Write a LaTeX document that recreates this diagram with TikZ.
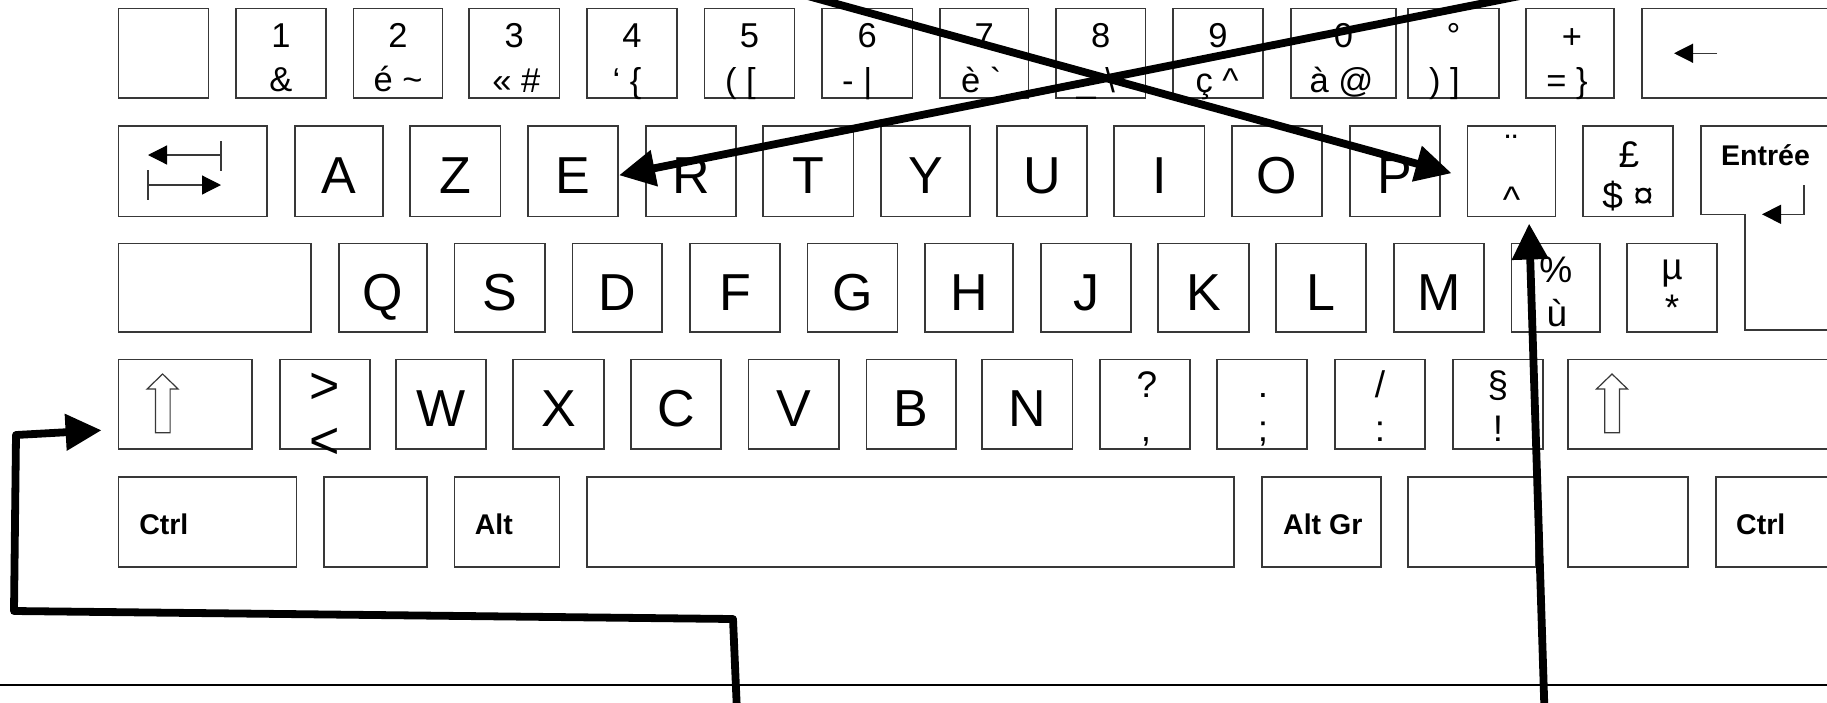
\documentclass[tikz,border=0pt]{standalone}
\usepackage{fontspec}
\setmainfont{Liberation Sans}
\usetikzlibrary{arrows.meta,calc}
\newcommand\kbox[5]{\node[keybox, minimum width={(#4)-(#2)}, minimum height={(#5)-(#3)}] (#1) at ({((#2)+(#4))/2},{((#3)+(#5))/2}) {};}
\newcommand\leg[5]{\node[#1] (#2) at ($(#3.north)+(#4)$) {#5};}
\newcommand\shiftarr[1]{\begin{scope}[shift={(#1.north west)}]
  \draw[thinline, fill=white] (44,14.5) -- (59.5,29.5) -- (51.5,29.5) -- (51.5,73.2) -- (36.8,73.2) -- (36.8,29.5) -- (28.5,29.5) -- cycle;
\end{scope}}
\begin{document}
\begin{tikzpicture}[x=1pt,y=-1pt,
  keybox/.style={draw=black!78, line width=1.2pt, fill=white, inner sep=0pt, outer sep=0pt},
  letter/.style={font=\fontsize{52}{52}\selectfont, inner sep=0pt, anchor=base},
  dig/.style={font=\fontsize{34.5}{34.5}\selectfont, inner sep=0pt, anchor=base},
  sym/.style={font=\fontsize{37}{37}\selectfont, inner sep=0pt, anchor=base},
  boldlbl/.style={font=\fontsize{28.5}{28.5}\selectfont\bfseries, inner sep=0pt, anchor=base west},
  bigarrow/.style={line width=7.8pt, line join=round, -{Triangle[length=36pt,width=35pt]}},
  thinline/.style={draw=black!78, line width=1.2pt},
  thinarrow/.style={thinline, -{Triangle[length=19pt,width=19pt,color=black]}}
]
\path[use as bounding box] (0,0) rectangle (1827,702);
\clip (0,0) rectangle (1827,702);
\fill[white] (0,0) rectangle (1827,702);
% ---------- row 1
\def\ya{8.5}\def\yb{98}
\kbox{k0}{118.6}{\ya}{208.8}{\yb}
\kbox{k1}{236}{\ya}{326}{\yb}
\kbox{k2}{353.5}{\ya}{442.5}{\yb}
\kbox{k3}{469}{\ya}{559.5}{\yb}
\kbox{k4}{587}{\ya}{677}{\yb}
\kbox{k5}{704.5}{\ya}{794.5}{\yb}
\kbox{k6}{822}{\ya}{912.5}{\yb}
\kbox{k7}{940}{\ya}{1028.5}{\yb}
\kbox{k8}{1056}{\ya}{1145.6}{\yb}
\kbox{k9}{1173}{\ya}{1263}{\yb}
\kbox{k10}{1291}{\ya}{1396}{\yb}
\kbox{k11}{1408}{\ya}{1499}{\yb}
\kbox{k12}{1526}{\ya}{1614}{\yb}
\kbox{kBk}{1642}{\ya}{1850}{\yb}
\leg{dig}{k1a}{k1}{0,38.5}{1}
\leg{dig}{k1b}{k1}{0,82.5}{\&}
\leg{dig}{k2a}{k2}{0,38.5}{2}
\leg{dig}{k2b}{k2}{0,82.5}{é \textasciitilde}
\leg{dig}{k3a}{k3}{0,38.5}{3}
\leg{dig}{k3b}{k3}{2,84}{« \#}
\leg{dig}{k4a}{k4}{0,38.5}{4}
\leg{dig}{k4b}{k4}{-5,84}{‘ \{}
\leg{dig}{k5a}{k5}{0,38.5}{5}
\leg{dig}{k5b}{k5}{-9,84}{( [}
\leg{dig}{k6a}{k6}{0,38.5}{6}
\leg{dig}{k6b}{k6}{-10,84}{- |}
\leg{dig}{k7a}{k7}{0,38.5}{7}
\leg{dig}{k7b}{k7}{-3,84}{è \textasciigrave}
\leg{dig}{k8a}{k8}{0,38.5}{8}
\leg{dig}{k8b}{k8}{-5,84}{\_ \textbackslash}
\leg{dig}{k9a}{k9}{0,38.5}{9}
\leg{dig}{k9b}{k9}{-1,84}{ç \textasciicircum}
\leg{dig}{k10a}{k10}{0,38.5}{0}
\leg{dig}{k10b}{k10}{-2,84}{à @}
\leg{dig}{k11a}{k11}{0,38.5}{°}
\leg{dig}{k11b}{k11}{-9,84}{) ]}
\leg{dig}{k12a}{k12}{2,40}{+}
\leg{dig}{k12b}{k12}{-3,84}{= \}}
\draw[thinarrow] ($(kBk.west)+(75,0)$) coordinate (bk1) -- ($(kBk.west)+(32,0)$) coordinate (bk2);
% ---------- row 2
\def\ya{126}\def\yb{216.5}
\kbox{kTab}{118.6}{\ya}{267}{\yb}
\kbox{kA}{295}{\ya}{383}{\yb}
\kbox{kZ}{410}{\ya}{500.6}{\yb}
\kbox{kE}{528}{\ya}{618}{\yb}
\kbox{kR}{646}{\ya}{736}{\yb}
\kbox{kT}{763}{\ya}{853.5}{\yb}
\kbox{kY}{881}{\ya}{970}{\yb}
\kbox{kU}{997}{\ya}{1087}{\yb}
\kbox{kI}{1114}{\ya}{1204.6}{\yb}
\kbox{kO}{1232}{\ya}{1322}{\yb}
\kbox{kP}{1350}{\ya}{1440}{\yb}
\kbox{kDia}{1467.6}{\ya}{1555.6}{\yb}
\kbox{kPound}{1583}{\ya}{1673}{\yb}
\foreach \k/\t in {kA/A,kZ/Z,kE/E,kR/R,kT/T,kY/Y,kU/U,kI/I,kO/O,kP/P}
  {\leg{letter}{\k l}{\k}{0,67.3}{\t}}
\leg{sym}{kDiaa}{kDia}{0,34}{¨}
\leg{sym}{kDiab}{kDia}{0,86}{\textasciicircum}
\leg{sym}{kPounda}{kPound}{1,41}{£}
\leg{sym}{kPoundb}{kPound}{0,82}{\$ ¤}
% tab arrows
\coordinate (ta1) at (221,141); \coordinate (ta2) at (221,171);
\coordinate (ta3) at (221,155); \coordinate (ta4) at (148,155);
\coordinate (tb1) at (148,170); \coordinate (tb2) at (148,200);
\coordinate (tb3) at (148,185); \coordinate (tb4) at (221,185);
\draw[thinline] (ta1) -- (ta2);
\draw[thinarrow] (ta3) -- (ta4);
\draw[thinline] (tb1) -- (tb2);
\draw[thinarrow] (tb3) -- (tb4);
% Entree
\draw[keybox] (1701,126) coordinate (kEnt) -- (1850,126) -- (1850,330) -- (1745,330) -- (1745,214.3) -- (1701,214.3) -- cycle;
\node[boldlbl] (kEntl) at ($(kEnt)+(20,39)$) {Entrée};
\coordinate (en1) at (1804,185); \coordinate (en2) at (1804,214.3); \coordinate (en3) at (1762,214.3);
\draw[thinarrow] (en1) -- (en2) -- (en3);
% ---------- row 3
\def\ya{243.5}\def\yb{332}
\kbox{kCaps}{118.6}{\ya}{311}{\yb}
\kbox{kQ}{339}{\ya}{427}{\yb}
\kbox{kS}{454.7}{\ya}{545}{\yb}
\kbox{kD}{572.5}{\ya}{662}{\yb}
\kbox{kF}{690}{\ya}{780}{\yb}
\kbox{kG}{807.6}{\ya}{897.7}{\yb}
\kbox{kH}{925}{\ya}{1013}{\yb}
\kbox{kJ}{1041}{\ya}{1131}{\yb}
\kbox{kK}{1158}{\ya}{1249}{\yb}
\kbox{kL}{1276}{\ya}{1366}{\yb}
\kbox{kM}{1394}{\ya}{1484}{\yb}
\kbox{kPct}{1511.6}{\ya}{1600}{\yb}
\kbox{kMu}{1627}{\ya}{1717}{\yb}
\foreach \k/\t in {kQ/Q,kS/S,kD/D,kF/F,kG/G,kH/H,kJ/J,kK/K,kL/L,kM/M}
  {\leg{letter}{\k l}{\k}{0,67.3}{\t}}
\leg{sym}{kPcta}{kPct}{0,38.5}{\%}
\leg{sym}{kPctb}{kPct}{1,82.5}{ù}
\leg{sym}{kMua}{kMu}{0,35.5}{µ}
\leg{sym}{kMub}{kMu}{0,76.5}{*}
% ---------- row 4
\def\ya{359.5}\def\yb{449}
\kbox{kLSh}{118.6}{\ya}{252}{\yb}
\kbox{kLt}{280}{\ya}{370}{\yb}
\kbox{kW}{396}{\ya}{486}{\yb}
\kbox{kX}{513}{\ya}{604}{\yb}
\kbox{kC}{631}{\ya}{721}{\yb}
\kbox{kV}{748.7}{\ya}{839}{\yb}
\kbox{kB}{866.5}{\ya}{956}{\yb}
\kbox{kN}{982}{\ya}{1072.5}{\yb}
\kbox{kQm}{1100}{\ya}{1190}{\yb}
\kbox{kSc}{1217}{\ya}{1307}{\yb}
\kbox{kSl}{1335}{\ya}{1425}{\yb}
\kbox{kSec}{1453}{\ya}{1543}{\yb}
\kbox{kRSh}{1568}{\ya}{1850}{\yb}
\foreach \k/\t in {kW/W,kX/X,kC/C,kV/V,kB/B,kN/N}
  {\leg{letter}{\k l}{\k}{0,67.3}{\t}}
\leg{letter}{kLta}{kLt}{0,43.5}{>}
\leg{letter}{kLtb}{kLt}{0,98.5}{<}
\leg{sym}{kQma}{kQm}{2,37.5}{?}
\leg{sym}{kQmb}{kQm}{1,81.5}{,}
\leg{sym}{kSca}{kSc}{1,37.5}{.}
\leg{sym}{kScb}{kSc}{1,81.5}{;}
\leg{sym}{kSla}{kSl}{0,37.5}{/}
\leg{sym}{kSlb}{kSl}{0,81.5}{:}
\leg{sym}{kSeca}{kSec}{0,37.5}{§}
\leg{sym}{kSecb}{kSec}{0,81.5}{!}
\shiftarr{kLSh}
\shiftarr{kRSh}
% ---------- row 5
\def\ya{477}\def\yb{567}
\kbox{kLC}{118.6}{\ya}{296.6}{\yb}
\kbox{kWin}{324}{\ya}{427}{\yb}
\kbox{kAlt}{454.7}{\ya}{559.5}{\yb}
\kbox{kSp}{587}{\ya}{1234}{\yb}
\kbox{kAG}{1262}{\ya}{1381}{\yb}
\kbox{kWin2}{1408}{\ya}{1536}{\yb}
\kbox{kMenu}{1568}{\ya}{1688}{\yb}
\kbox{kRC}{1716}{\ya}{1850}{\yb}
\node[boldlbl] (kLCl) at ($(kLC.north west)+(20.5,57.5)$) {Ctrl};
\node[boldlbl] (kAltl) at ($(kAlt.north west)+(20,57.5)$) {Alt};
\node[boldlbl] (kAGl) at ($(kAG.north west)+(21,57.5)$) {Alt Gr};
\node[boldlbl] (kRCl) at ($(kRC.north west)+(20,57.5)$) {Ctrl};
% ---------- bottom line
\draw[line width=2pt] (0,685) coordinate (bl1) -- (1827,685) coordinate (bl2);
% ---------- thick arrows
\coordinate (s1) at (786,-10);
\coordinate (s2) at (1550,-10);
\coordinate (s3) at (737,712);
\coordinate (s4) at (1544.5,712);
\draw[bigarrow] (s1) -- ($(kDia.west)+(-16,2)$);
\draw[bigarrow] (s2) -- ($(kE.east)+(1,4)$);
\draw[bigarrow] (s3) -- (733,619) -- (14,611) -- (16,435) -- ($(kLSh.west)+(-17,26)$);
\draw[bigarrow] (s4) -- ($(kDia.south)+(17.5,7)$);
\end{tikzpicture}
\end{document}
